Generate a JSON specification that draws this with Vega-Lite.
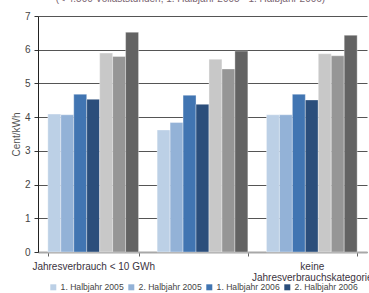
{
  "$schema": "https://vega.github.io/schema/vega-lite/v6.json",
  "autosize": {"type": "none"},
  "width": 329,
  "height": 236,
  "padding": {"left": 38, "top": 16, "right": 2, "bottom": 41},
  "config": {
    "font": "Liberation Sans",
    "view": {"stroke": null},
    "axis": {"labelFont": "Liberation Sans", "titleFont": "Liberation Sans"}
  },
  "title": {
    "text": "(< 4.500 Vollaststunden; 1. Halbjahr 2005 - 1. Halbjahr 2006)",
    "fontSize": 10,
    "fontWeight": "normal",
    "color": "#7a6470",
    "anchor": "middle",
    "offset": 7,
    "dx": -12
  },
  "data": {
    "values": [
      {"kategorie": "A", "serie": "1. Halbjahr 2005", "wert": 4.09},
      {"kategorie": "A", "serie": "2. Halbjahr 2005", "wert": 4.07},
      {"kategorie": "A", "serie": "1. Halbjahr 2006", "wert": 4.68},
      {"kategorie": "A", "serie": "2. Halbjahr 2006", "wert": 4.53},
      {"kategorie": "A", "serie": "Vergleich 1", "wert": 5.90},
      {"kategorie": "A", "serie": "Vergleich 2", "wert": 5.80},
      {"kategorie": "A", "serie": "Vergleich 3", "wert": 6.52},
      {"kategorie": "B", "serie": "1. Halbjahr 2005", "wert": 3.62},
      {"kategorie": "B", "serie": "2. Halbjahr 2005", "wert": 3.84},
      {"kategorie": "B", "serie": "1. Halbjahr 2006", "wert": 4.65},
      {"kategorie": "B", "serie": "2. Halbjahr 2006", "wert": 4.38},
      {"kategorie": "B", "serie": "Vergleich 1", "wert": 5.72},
      {"kategorie": "B", "serie": "Vergleich 2", "wert": 5.43},
      {"kategorie": "B", "serie": "Vergleich 3", "wert": 5.96},
      {"kategorie": "C", "serie": "1. Halbjahr 2005", "wert": 4.07},
      {"kategorie": "C", "serie": "2. Halbjahr 2005", "wert": 4.07},
      {"kategorie": "C", "serie": "1. Halbjahr 2006", "wert": 4.68},
      {"kategorie": "C", "serie": "2. Halbjahr 2006", "wert": 4.51},
      {"kategorie": "C", "serie": "Vergleich 1", "wert": 5.88},
      {"kategorie": "C", "serie": "Vergleich 2", "wert": 5.82},
      {"kategorie": "C", "serie": "Vergleich 3", "wert": 6.43}
    ]
  },
  "mark": {"type": "bar", "stroke": "#ffffff", "strokeOpacity": 0.35, "strokeWidth": 1},
  "encoding": {
    "x": {
      "field": "kategorie",
      "type": "nominal",
      "sort": ["A", "B", "C"],
      "scale": {"paddingInner": 0.17, "paddingOuter": 0.09},
      "axis": {
        "title": null,
        "labelAngle": 0,
        "labelExpr": "datum.value == 'A' ? 'Jahresverbrauch < 10 GWh' : datum.value == 'C' ? ['keine', 'Jahresverbrauchskategorie'] : ''",
        "labelFontSize": 10,
        "labelColor": "#3a3340",
        "labelPadding": 5,
        "labelLineHeight": 11,
        "tickBand": "extent",
        "tickSize": 4,
        "tickColor": "#666666",
        "domainColor": "#a8a8a8",
        "domainWidth": 2,
        "grid": false
      }
    },
    "xOffset": {
      "field": "serie",
      "type": "nominal",
      "sort": ["1. Halbjahr 2005", "2. Halbjahr 2005", "1. Halbjahr 2006", "2. Halbjahr 2006", "Vergleich 1", "Vergleich 2", "Vergleich 3"],
      "scale": {"paddingInner": 0, "paddingOuter": 0}
    },
    "y": {
      "field": "wert",
      "type": "quantitative",
      "scale": {"domain": [0, 7], "nice": false},
      "axis": {
        "title": "Cent/kWh",
        "titleFontSize": 10,
        "titleFontWeight": "normal",
        "titleColor": "#555555",
        "titlePadding": 3,
        "values": [0, 1, 2, 3, 4, 5, 6, 7],
        "labelFontSize": 10,
        "labelColor": "#444444",
        "labelPadding": 4,
        "tickSize": 4,
        "tickColor": "#333333",
        "domainColor": "#222222",
        "grid": true,
        "gridColor": "#555555",
        "gridWidth": 1
      }
    },
    "color": {
      "field": "serie",
      "type": "nominal",
      "sort": ["1. Halbjahr 2005", "2. Halbjahr 2005", "1. Halbjahr 2006", "2. Halbjahr 2006", "Vergleich 1", "Vergleich 2", "Vergleich 3"],
      "scale": {
        "domain": ["1. Halbjahr 2005", "2. Halbjahr 2005", "1. Halbjahr 2006", "2. Halbjahr 2006", "Vergleich 1", "Vergleich 2", "Vergleich 3"],
        "range": ["#bcd0e6", "#93b2d7", "#4175b2", "#2b4e7b", "#c8c8c8", "#969696", "#636363"]
      },
      "legend": {
        "title": null,
        "orient": "none",
        "legendX": 11,
        "legendY": 267,
        "direction": "horizontal",
        "columns": 4,
        "gridAlign": "none",
        "values": ["1. Halbjahr 2005", "2. Halbjahr 2005", "1. Halbjahr 2006", "2. Halbjahr 2006"],
        "symbolType": "square",
        "symbolSize": 36,
        "symbolStrokeWidth": 0,
        "labelFontSize": 8.6,
        "labelColor": "#444444",
        "labelOffset": 3,
        "columnPadding": 3,
        "labelLimit": 80
      }
    }
  }
}
